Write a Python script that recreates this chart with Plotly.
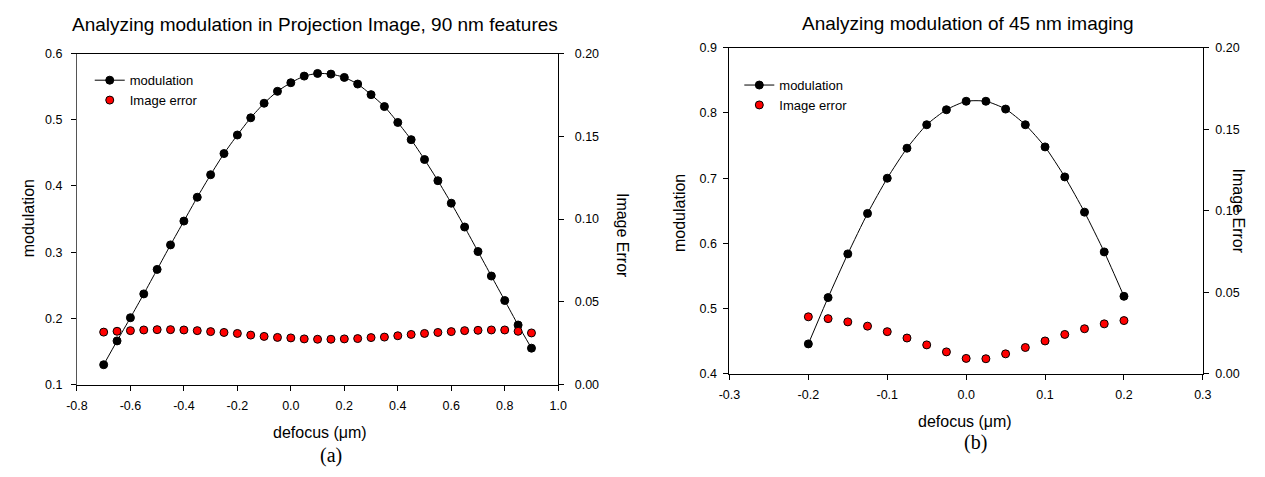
import plotly.graph_objects as go

# ---- data: panel (a), 90 nm features ----
defocus_a = [-0.70, -0.65, -0.60, -0.55, -0.50, -0.45, -0.40, -0.35, -0.30, -0.25,
             -0.20, -0.15, -0.10, -0.05, 0.00, 0.05, 0.10, 0.15, 0.20, 0.25,
             0.30, 0.35, 0.40, 0.45, 0.50, 0.55, 0.60, 0.65, 0.70, 0.75,
             0.80, 0.85, 0.90]
modulation_a = [0.130, 0.166, 0.201, 0.237, 0.274, 0.311, 0.347, 0.383, 0.417, 0.449,
                0.477, 0.503, 0.525, 0.543, 0.556, 0.566, 0.570, 0.569, 0.564, 0.554,
                0.538, 0.520, 0.496, 0.470, 0.440, 0.408, 0.374, 0.338, 0.301, 0.264,
                0.227, 0.190, 0.155]
image_error_a = [0.0317, 0.0322, 0.0326, 0.0330, 0.0332, 0.0332, 0.0330, 0.0326, 0.0320, 0.0315,
                 0.0309, 0.0299, 0.0291, 0.0285, 0.0282, 0.0276, 0.0274, 0.0274, 0.0276, 0.0278,
                 0.0284, 0.0287, 0.0295, 0.0303, 0.0309, 0.0315, 0.0320, 0.0326, 0.0328, 0.0330,
                 0.0330, 0.0322, 0.0312]

# ---- data: panel (b), 45 nm imaging ----
defocus_b = [-0.200, -0.175, -0.150, -0.125, -0.100, -0.075, -0.050, -0.025, 0.000,
             0.025, 0.050, 0.075, 0.100, 0.125, 0.150, 0.175, 0.200]
modulation_b = [0.446, 0.517, 0.584, 0.646, 0.700, 0.746, 0.782, 0.805, 0.818,
                0.818, 0.806, 0.782, 0.748, 0.702, 0.648, 0.587, 0.519]
image_error_b = [0.0350, 0.0339, 0.0319, 0.0293, 0.0259, 0.0220, 0.0178, 0.0135, 0.0095,
                 0.0093, 0.0123, 0.0162, 0.0202, 0.0242, 0.0277, 0.0307, 0.0327]

# ---- tick labels ----
xticks_a = [-0.8, -0.6, -0.4, -0.2, 0.0, 0.2, 0.4, 0.6, 0.8, 1.0]
xlabels_a = ["-0.8", "-0.6", "-0.4", "-0.2", "0.0", "0.2", "0.4", "0.6", "0.8", "1.0"]
yticks_a = [0.1, 0.2, 0.3, 0.4, 0.5, 0.6]
xticks_b = [-0.3, -0.2, -0.1, 0.0, 0.1, 0.2, 0.3]
xlabels_b = ["-0.3", "-0.2", "-0.1", "0.0", "0.1", "0.2", "0.3"]
yticks_b = [0.4, 0.5, 0.6, 0.7, 0.8, 0.9]
err_ticks = [0.00, 0.05, 0.10, 0.15, 0.20]

W, H = 1265, 477
FONT = "Liberation Sans, Arial, sans-serif"
TICK = dict(family=FONT, size=12.5, color="black")


def px(x):
    return x / W


def py(y):
    return 1 - y / H


fig = go.Figure()

line_style = dict(color="black", width=1, shape="spline", smoothing=0.6)
black_dot = dict(color="black", size=8, line=dict(color="black", width=1))
red_dot = dict(color="#ff0000", size=8, line=dict(color="black", width=1))

# panel (a)
fig.add_trace(go.Scatter(x=defocus_a, y=modulation_a, mode="lines+markers", name="modulation",
                         line=line_style, marker=black_dot, xaxis="x", yaxis="y", legend="legend"))
fig.add_trace(go.Scatter(x=defocus_a, y=image_error_a, mode="markers", name="Image error",
                         marker=red_dot, xaxis="x", yaxis="y2", legend="legend"))
# panel (b)
fig.add_trace(go.Scatter(x=defocus_b, y=modulation_b, mode="lines+markers", name="modulation",
                         line=line_style, marker=black_dot, xaxis="x2", yaxis="y3", legend="legend2"))
fig.add_trace(go.Scatter(x=defocus_b, y=image_error_b, mode="markers", name="Image error",
                         marker=red_dot, xaxis="x2", yaxis="y4", legend="legend2"))


def axis_style(standoff, linecolor="black"):
    return dict(showline=True, linecolor=linecolor, linewidth=1, ticks="outside",
                ticklen=5, tickwidth=1, tickcolor="black", showgrid=False,
                zeroline=False, tickfont=TICK, ticklabelstandoff=standoff)


dom_a_x = [px(67), px(556)]
dom_a_y = [py(389), py(48)]
dom_b_x = [px(730), px(1211)]
dom_b_y = [py(378), py(42)]

fig.update_layout(
    width=W, height=H,
    margin=dict(l=0, r=0, t=0, b=0),
    paper_bgcolor="white", plot_bgcolor="white",
    showlegend=True,
    xaxis=dict(domain=dom_a_x, range=[-0.8, 1.0], tickvals=xticks_a, ticktext=xlabels_a,
               mirror=True, anchor="y", **axis_style(4)),
    yaxis=dict(domain=dom_a_y, range=[0.1, 0.6], tickvals=yticks_a, tickformat=".1f",
               anchor="x", **axis_style(6, "#555555")),
    yaxis2=dict(domain=dom_a_y, range=[0.0, 0.2], tickvals=err_ticks, tickformat=".2f",
                overlaying="y", side="right", anchor="x", **axis_style(8)),
    xaxis2=dict(domain=dom_b_x, range=[-0.3, 0.3], tickvals=xticks_b, ticktext=xlabels_b,
                mirror=True, anchor="y3", **axis_style(4)),
    yaxis3=dict(domain=dom_b_y, range=[0.4, 0.9], tickvals=yticks_b, tickformat=".1f",
                anchor="x2", **axis_style(4)),
    yaxis4=dict(domain=dom_b_y, range=[0.0, 0.2], tickvals=err_ticks, tickformat=".2f",
                overlaying="y3", side="right", anchor="x2", **axis_style(4)),
    legend=dict(x=px(80), y=py(60), xanchor="left", yanchor="top", bgcolor="rgba(0,0,0,0)",
                font=dict(family=FONT, size=13, color="black"), itemwidth=30,
                tracegroupgap=0),
    legend2=dict(x=px(740), y=py(65), xanchor="left", yanchor="top", bgcolor="rgba(0,0,0,0)",
                 font=dict(family=FONT, size=13, color="black"), itemwidth=30,
                 tracegroupgap=0),
)

ann = []
title_font = dict(family=FONT, size=19, color="black")
label_font = dict(family=FONT, size=16, color="black")
serif_font = dict(family="Liberation Serif, Times New Roman, serif", size=20, color="black")


def text(x, y, s, font, angle=0):
    ann.append(dict(x=px(x), y=py(y), xref="paper", yref="paper", text=s, showarrow=False,
                    font=font, textangle=angle, xanchor="center", yanchor="middle"))


text(309, 18, "Analyzing modulation in Projection Image, 90 nm features", title_font)
text(972, 17, "Analyzing modulation of 45 nm imaging", title_font)
text(314, 438, "defocus (μm)", label_font)
text(969, 427, "defocus (μm)", label_font)
text(18, 218, "modulation", label_font, -90)
text(680, 212, "modulation", label_font, -90)
text(622, 235, "Image Error", label_font, 90)
text(1247, 210, "Image Error", label_font, 90)
text(325, 462, "(a)", serif_font)
text(980, 449, "(b)", serif_font)

fig.update_layout(annotations=ann)

fig.write_html("out.html")
